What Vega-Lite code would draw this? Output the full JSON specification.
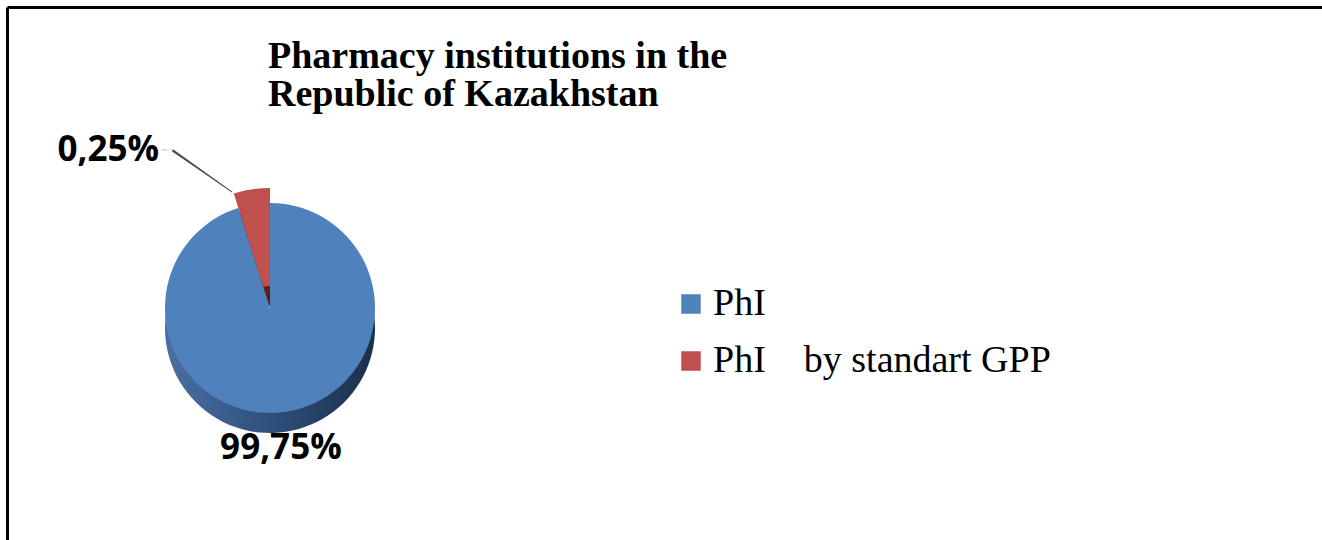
{
  "$schema": "https://vega.github.io/schema/vega-lite/v6.json",
  "width": 1315,
  "height": 533,
  "autosize": "none",
  "padding": {"left": 7, "top": 7, "right": 0, "bottom": 0},
  "background": "white",
  "config": {"view": {"stroke": null}},
  "title": {
    "text": ["Pharmacy institutions in the", "Republic of Kazakhstan"],
    "anchor": "start",
    "frame": "group",
    "font": "Liberation Serif",
    "fontSize": 38,
    "fontWeight": "bold",
    "color": "black",
    "baseline": "top",
    "lineHeight": 38,
    "offset": 0,
    "dx": 261,
    "dy": 108
  },
  "data": {
    "values": [
      {"cat": "PhI", "v": 99.75, "label": "99,75%"},
      {"cat": "PhI by standart GPP", "v": 0.25, "label": "0,25%"}
    ]
  },
  "layer": [
    {
      "mark": {"type": "point", "opacity": 0},
      "encoding": {
        "x": {"field": "v", "type": "quantitative", "axis": {"orient": "top", "title": null, "labels": false, "ticks": false, "grid": false, "domain": true, "domainColor": "black", "domainWidth": 3, "offset": 0}},
        "y": {"field": "v", "type": "quantitative", "axis": {"orient": "left", "title": null, "labels": false, "ticks": false, "grid": false, "domain": true, "domainColor": "black", "domainWidth": 3, "offset": 0}}
      }
    },
    {
      "mark": {"type": "arc", "x": 263, "y": 301, "yOffset": 20, "radius": 105, "radius2": 0},
      "encoding": {
        "theta": {"field": "v", "type": "quantitative", "stack": true, "scale": {"type": "pow", "exponent": 20}},
        "color": {"value": {"gradient": "linear", "x1": 0, "x2": 1, "y1": 0, "y2": 0,
            "stops": [{"offset": 0, "color": "#4a70a3"}, {"offset": 0.5, "color": "#2f4f7c"}, {"offset": 1, "color": "#1c2f48"}]}},
        "opacity": {"condition": {"test": "datum.cat === 'PhI'", "value": 1}, "value": 0}
      }
    },
    {
      "mark": {"type": "arc", "x": 263, "y": 301, "yOffset": 20, "radius": 120, "radius2": 22},
      "encoding": {
        "theta": {"field": "v", "type": "quantitative", "stack": true, "scale": {"type": "pow", "exponent": 20}},
        "color": {"value": "#5a1e1c"},
        "opacity": {"condition": {"test": "datum.cat !== 'PhI'", "value": 1}, "value": 0}
      }
    },
    {
      "mark": {"type": "arc", "x": 263, "y": 301, "radius": 105, "radius2": 0},
      "encoding": {
        "theta": {"field": "v", "type": "quantitative", "stack": true, "scale": {"type": "pow", "exponent": 20}},
        "color": {
          "condition": {
            "test": "datum.cat === 'PhI'",
            "field": "cat",
            "type": "nominal",
            "scale": {"domain": ["PhI", "PhI by standart GPP"], "range": ["#4F81BD", "#C0504D"]},
            "legend": {
              "title": null,
              "orient": "none",
              "legendX": 665,
              "legendY": 278,
              "padding": 0,
              "symbolType": "square",
              "symbolSize": 380,
              "symbolStrokeWidth": 0,
              "symbolOpacity": 1,
              "labelFont": "Liberation Serif",
              "labelFontSize": 38,
              "labelColor": "black",
              "labelOffset": 3,
              "labelLimit": 0,
              "rowPadding": 19,
              "labelExpr": "datum.label === 'PhI by standart GPP' ? 'PhI\u00a0\u00a0\u00a0 by standart GPP' : datum.label"
            }
          },
          "value": "rgba(0,0,0,0)"
        }
      }
    },
    {
      "mark": {"type": "arc", "x": 263, "y": 301, "radius": 120, "radius2": 22},
      "encoding": {
        "theta": {"field": "v", "type": "quantitative", "stack": true, "scale": {"type": "pow", "exponent": 20}},
        "color": {"condition": {"test": "datum.cat !== 'PhI'", "value": "#C0504D"}, "value": "rgba(0,0,0,0)"}
      }
    },
    {
      "mark": {"type": "arc", "x": 285, "y": 227, "thetaOffset": -0.952, "radius": 146, "radius2": 73},
      "encoding": {
        "theta": {"field": "v", "type": "quantitative", "stack": true},
        "color": {"value": "#4d4d4d"},
        "opacity": {"condition": {"test": "datum.cat !== 'PhI'", "value": 1}, "value": 0}
      }
    },
    {
      "mark": {"type": "arc", "x": 175, "y": 143, "thetaOffset": -1.563, "radius": 20, "radius2": 9},
      "encoding": {
        "theta": {"field": "v", "type": "quantitative", "stack": true},
        "color": {"value": "#4d4d4d"},
        "opacity": {"condition": {"test": "datum.cat !== 'PhI'", "value": 1}, "value": 0}
      }
    },
    {
      "mark": {"type": "text", "x": 263, "y": 301, "font": "Open Sans", "fontWeight": "bold", "fontSize": 35, "align": "center", "baseline": "middle", "color": "black", "dx": 12},
      "encoding": {
        "theta": {"field": "v", "type": "quantitative", "stack": true},
        "radius": {"value": 140},
        "text": {"condition": {"test": "datum.cat === 'PhI'", "field": "label"}, "value": ""}
      }
    },
    {
      "mark": {"type": "text", "x": 263, "y": 301, "thetaOffset": -0.62, "font": "Open Sans", "fontWeight": "bold", "fontSize": 35, "align": "right", "baseline": "middle", "color": "black"},
      "encoding": {
        "theta": {"field": "v", "type": "quantitative", "stack": true},
        "radius": {"value": 193},
        "text": {"condition": {"test": "datum.cat !== 'PhI'", "field": "label"}, "value": ""}
      }
    }
  ],
  "resolve": {"scale": {"theta": "independent"}}
}
